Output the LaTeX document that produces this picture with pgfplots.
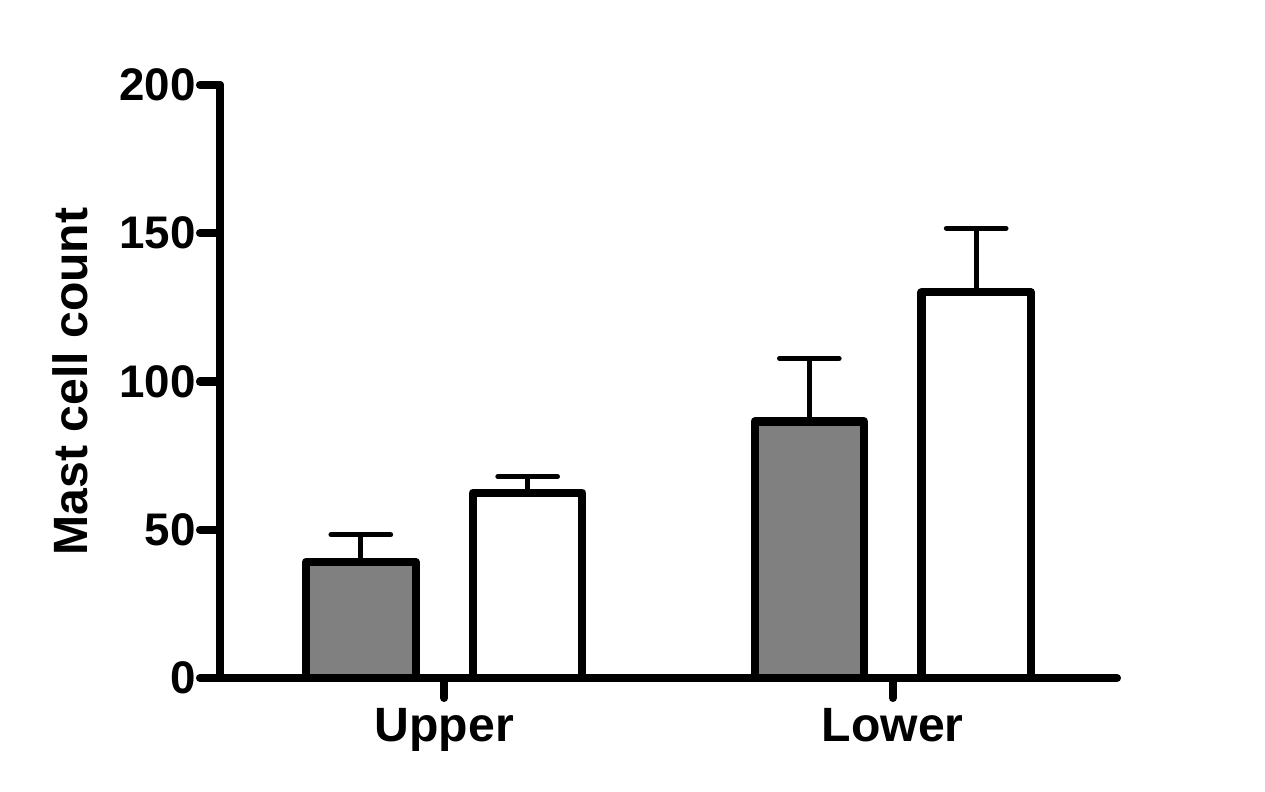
\documentclass[border=0pt]{standalone}
\usepackage{pgfplots}
\pgfplotsset{compat=1.18}
\usepackage{fontspec}
\setmainfont{Liberation Sans}
\definecolor{bargray}{RGB}{128,128,128}
\begin{document}
\begin{tikzpicture}[x=1mm,y=1mm]
\useasboundingbox (0,0) rectangle (126.5,79.2);
\begin{axis}[
  at={(22.0mm,11.4mm)}, anchor=south west,
  scale only axis, width=89.7mm, height=59.3mm,
  xmin=0.5, xmax=2.5, ymin=0, ymax=200,
  axis lines=left,
  axis line style={-, line width=2.3pt, line cap=round},
  xtick={1,2}, xticklabels={Upper,Lower},
  ytick={0,50,100,150,200},
  tick style={line width=2.3pt, black, line cap=round},
  major tick length=2mm, tick align=outside,
  ylabel={Mast cell count},
  ylabel style={at={(axis description cs:-0.167,0.5)}, anchor=center,
    font=\fontsize{13.7}{15}\selectfont\bfseries},
  xticklabel style={font=\fontsize{13.7}{15}\selectfont\bfseries, yshift=0.25mm},
  yticklabel style={font=\fontsize{13}{15}\selectfont\bfseries, inner xsep=1pt},
  /pgf/number format/assume math mode=true,
  enlargelimits=false,
  clip=false,
]
% bars
\addplot[ybar, bar width=0.244, bar shift=0, fill=bargray, draw=black,
  line width=2.3pt, line join=round]
  coordinates {(0.814,39.2) (1.814,86.5)};
\addplot[ybar, bar width=0.244, bar shift=0, fill=white, draw=black,
  line width=2.3pt, line join=round]
  coordinates {(1.186,62.5) (2.186,130.1)};
% error bars (upper half only)
\addplot[draw=none, mark=none,
  error bars/.cd, y dir=plus, y explicit, error mark=|,
  error bar style={line width=1.4pt, draw=black},
  error mark options={line width=1.4pt, mark size=8.5pt, draw=black, line cap=round}]
  coordinates {(0.814,39.2) +- (0,9.1) (1.814,86.5) +- (0,21.3)
               (1.186,62.5) +- (0,5.4) (2.186,130.1) +- (0,21.6)};
\end{axis}
\end{tikzpicture}
\end{document}
